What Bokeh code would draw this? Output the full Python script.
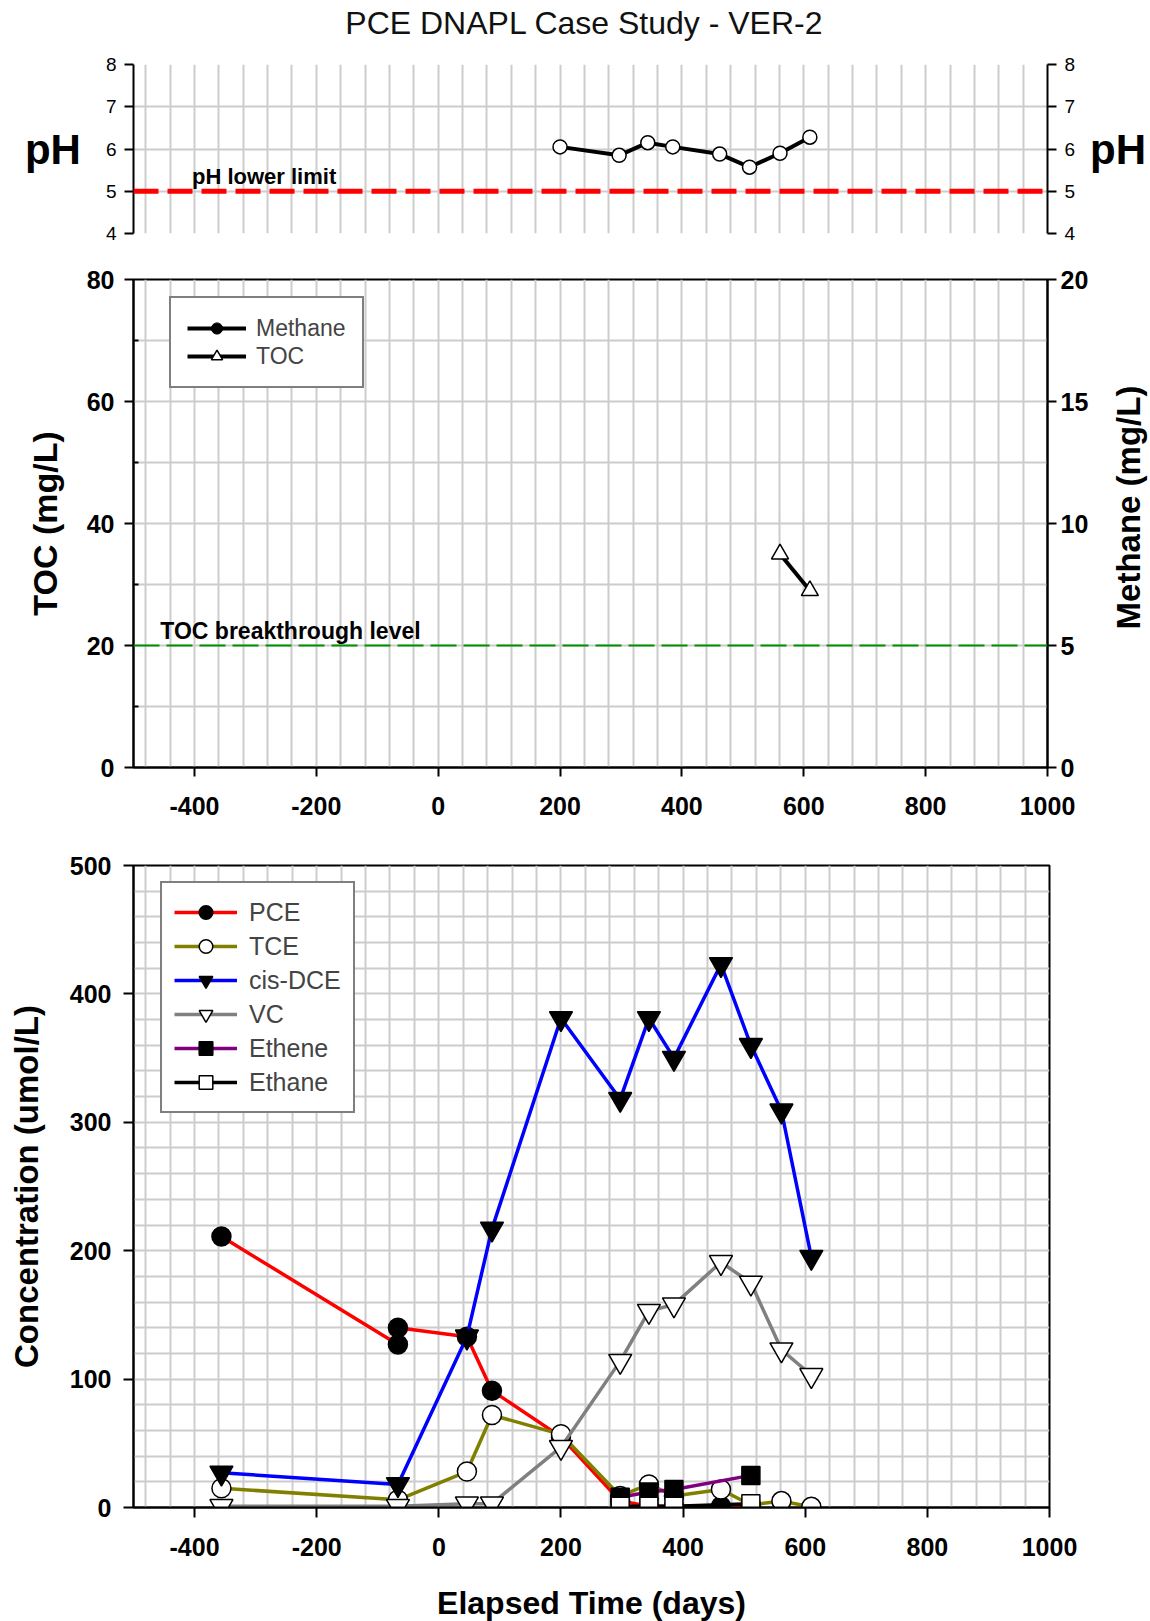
import math
from bokeh.plotting import figure
from bokeh.layouts import column, row
from bokeh.models import (FixedTicker, Range1d, LinearAxis, Legend, LegendItem,
                          Label, Span, ColumnDataSource)
from bokeh.embed import file_html
from bokeh.resources import INLINE

FONT = "Liberation Sans"

# ---------------- data ----------------
title_text = "PCE DNAPL Case Study - VER-2"
x_ticks = [-400, -200, 0, 200, 400, 600, 800, 1000]
x_tick_labels = ["-400", "-200", "0", "200", "400", "600", "800", "1000"]

ph_days = [200, 297, 344, 385, 462, 511, 561, 610]
ph_values = [6.05, 5.85, 6.15, 6.05, 5.88, 5.57, 5.90, 6.28]
ph_lower_limit = 5

toc_days = [561, 610]
toc_values = [35, 29]
methane_days = [561]
methane_values = [float("nan")]   # no methane values plotted
toc_breakthrough = 20

pce_days = [-356, -67, -67, 46, 87, 200, 297, 344, 385, 462, 511]
pce_values = [211, 127, 140, 133, 91, 55, 5, 1, 1, 1, 0.5]
tce_days = [-356, -67, 46, 87, 200, 297, 344, 385, 462, 511, 561, 610]
tce_values = [15, 6, 28, 72, 57, 9, 18, 9, 14, 2, 5, 0.5]
cdce_days = [-356, -67, 46, 87, 200, 297, 344, 385, 462, 511, 561, 610]
cdce_values = [27, 18, 133, 217, 381, 318, 381, 350, 423, 360, 309, 195]
vc_days = [-356, -67, 46, 87, 200, 297, 344, 385, 462, 511, 561, 610]
vc_values = [1, 1, 3, 3, 47, 114, 153, 158, 191, 175, 123, 103]
ethene_days = [297, 344, 385, 511]
ethene_values = [8, 12, 14, 25]
ethane_days = [297, 344, 385, 511]
ethane_values = [1, 1, 1, 3]

# ---------------- styling helpers ----------------
GRID = "#cccccc"
vgrid = list(range(-480, 1001, 40))
x_overrides = {t: s for t, s in zip(x_ticks, x_tick_labels)}


def style_axis(ax, size="25px", bold=True):
    ax.axis_line_color = "black"
    ax.axis_line_width = 2
    ax.major_tick_line_color = "black"
    ax.major_tick_line_width = 2
    ax.major_tick_out = 9
    ax.major_tick_in = 0
    ax.minor_tick_line_color = "black"
    ax.minor_tick_line_width = 2
    ax.minor_tick_out = 0
    ax.minor_tick_in = 0
    ax.major_label_text_font = FONT
    ax.major_label_text_font_size = size
    ax.major_label_text_font_style = "bold" if bold else "normal"
    ax.major_label_text_color = "black"
    ax.axis_label_text_font = FONT
    ax.axis_label_text_font_style = "bold"
    ax.axis_label_text_color = "black"


def new_fig(y0, y1, fh, top, bottom, fw=914, left=133, right=None):
    if right is None:
        right = 1150 - left - fw
    p = figure(x_range=Range1d(-500, 1000), y_range=Range1d(y0, y1),
               frame_width=fw, frame_height=fh,
               min_border_left=left, min_border_right=right,
               min_border_top=top, min_border_bottom=bottom,
               output_backend="svg", toolbar_location=None)
    p.background_fill_color = "white"
    p.border_fill_color = "white"
    p.xgrid.ticker = FixedTicker(ticks=vgrid)
    p.xgrid.grid_line_color = GRID
    p.xgrid.grid_line_width = 2
    p.ygrid.grid_line_color = GRID
    p.ygrid.grid_line_width = 2
    return p


# ---------------- title strip ----------------
p0 = figure(x_range=Range1d(0, 914), y_range=Range1d(0, 54),
            frame_width=914, frame_height=54,
            min_border_left=133, min_border_right=103, min_border_top=0, min_border_bottom=0,
            x_axis_location=None, y_axis_location=None,
            output_backend="svg", toolbar_location=None)
p0.grid.visible = False
p0.outline_line_color = None
p0.background_fill_color = "white"
p0.border_fill_color = "white"
p0.add_layout(Label(x=451, y=32, text=title_text, text_align="center",
                    text_baseline="alphabetic", text_font=FONT, text_font_size="32px",
                    text_font_style="normal", text_color="#111111"))

# ---------------- pH panel ----------------
p1 = new_fig(4, 8, 169, 10, 10)
p1.outline_line_color = None
p1.xaxis.visible = False
p1.ygrid.ticker = FixedTicker(ticks=[4, 5, 6, 7, 8])
ax = p1.yaxis[0]
ax.ticker = FixedTicker(ticks=[4, 5, 6, 7, 8])
style_axis(ax, size="19px", bold=False)
ax.axis_label = "pH"
ax.axis_label_orientation = "horizontal"
ax.axis_label_text_font_size = "42px"
ax.axis_label_standoff = 22
ax.major_label_standoff = 8
axr = LinearAxis(ticker=FixedTicker(ticks=[4, 5, 6, 7, 8]))
style_axis(axr, size="19px", bold=False)
axr.axis_label = "pH"
axr.axis_label_orientation = "horizontal"
axr.axis_label_text_font_size = "42px"
axr.axis_label_standoff = 12
axr.major_label_standoff = 8
p1.add_layout(axr, "right")

p1.add_layout(Span(location=ph_lower_limit, dimension="width", line_color="#ff0000",
                   line_width=5, line_dash="25 9"))
p1.add_layout(Label(x=-404, y=ph_lower_limit, y_offset=15, text="pH lower limit",
                    text_font=FONT, text_font_size="22px", text_font_style="bold",
                    text_color="black", text_baseline="alphabetic"))
ph_src = ColumnDataSource(data=dict(x=ph_days, y=ph_values))
p1.line("x", "y", source=ph_src, line_color="black", line_width=4)
p1.scatter("x", "y", source=ph_src, marker="circle", size=14, fill_color="white",
           line_color="black", line_width=1.5)

# ---------------- TOC / methane panel ----------------
p2 = new_fig(0, 80, 488, 36, 66, right=50)
p2.outline_line_color = "black"
p2.outline_line_width = 2
p2.ygrid.ticker = FixedTicker(ticks=list(range(0, 81, 10)))
p2.extra_y_ranges = {"methane": Range1d(0, 20)}
xa2 = p2.xaxis[0]
xa2.ticker = FixedTicker(ticks=x_ticks)
xa2.major_label_overrides = x_overrides
style_axis(xa2)
xa2.major_label_standoff = 20
ya2 = p2.yaxis[0]
ya2.ticker = FixedTicker(ticks=[0, 20, 40, 60, 80], minor_ticks=[10, 30, 50, 70])
style_axis(ya2)
ya2.minor_tick_in = 5
ya2.major_label_standoff = 10
ya2.axis_label = "TOC (mg/L)"
ya2.axis_label_text_font_size = "34px"
ya2.axis_label_standoff = 20
yr2 = LinearAxis(y_range_name="methane", ticker=FixedTicker(ticks=[0, 5, 10, 15, 20]))
style_axis(yr2)
yr2.major_label_standoff = 4
p2.add_layout(yr2, "right")

p2.add_layout(Span(location=toc_breakthrough, dimension="width", line_color="#009000",
                   line_width=2, line_dash="26 7"))
p2.add_layout(Label(x=-456, y=toc_breakthrough, y_offset=15, text="TOC breakthrough level",
                    text_font=FONT, text_font_size="23px", text_font_style="bold",
                    text_color="black", text_baseline="alphabetic"))

m_src = ColumnDataSource(data=dict(x=methane_days, y=methane_values))
m_line = p2.line("x", "y", source=m_src, y_range_name="methane", line_color="black", line_width=4)
m_sc = p2.scatter("x", "y", source=m_src, y_range_name="methane", marker="circle", size=16,
                  fill_color="black", line_color="black")
t_src = ColumnDataSource(data=dict(x=toc_days, y=toc_values))
t_line = p2.line("x", "y", source=t_src, line_color="black", line_width=4)
t_sc = p2.scatter("x", "y", source=t_src, marker="triangle", size=17, fill_color="white",
                  line_color="black", line_width=1.5)

leg2 = Legend(items=[LegendItem(label="Methane", renderers=[m_line, m_sc]),
                     LegendItem(label="TOC", renderers=[t_line, t_sc])],
              location=(36, 379), margin=0, padding=16, spacing=0,
              glyph_width=59, glyph_height=28, label_standoff=10,
              label_text_font=FONT, label_text_font_size="23px",
              border_line_color="black", border_line_width=2,
              background_fill_color="white", background_fill_alpha=1)
p2.add_layout(leg2)

# narrow companion figure carrying the right-hand axis title (reads bottom-to-top)
pm = figure(x_range=Range1d(0, 1), y_range=Range1d(0, 20),
            frame_width=1, frame_height=456,
            min_border_left=52, min_border_right=0,
            min_border_top=36, min_border_bottom=98,
            output_backend="svg", toolbar_location=None)
pm.background_fill_color = "white"
pm.border_fill_color = "white"
pm.outline_line_color = None
pm.xaxis.visible = False
pm.xgrid.visible = False
pm.ygrid.visible = False
am = pm.yaxis[0]
am.ticker = FixedTicker(ticks=[])
am.axis_line_color = None
am.major_tick_line_color = None
am.minor_tick_line_color = None
am.axis_label = "Methane (mg/L)"
am.axis_label_text_font = FONT
am.axis_label_text_font_size = "33px"
am.axis_label_text_font_style = "bold"
am.axis_label_text_color = "black"
am.axis_label_standoff = 3

# ---------------- concentration panel ----------------
p3 = new_fig(0, 500, 642, 32, 114, fw=916, left=133)
p3.outline_line_color = "black"
p3.outline_line_width = 2
p3.ygrid.ticker = FixedTicker(ticks=list(range(0, 501, 20)))
xa3 = p3.xaxis[0]
xa3.ticker = FixedTicker(ticks=x_ticks)
xa3.major_label_overrides = x_overrides
style_axis(xa3)
xa3.major_tick_out = 10
xa3.major_label_standoff = 20
xa3.axis_label = "Elapsed Time (days)"
xa3.axis_label_text_font_size = "32px"
xa3.axis_label_standoff = 26
ya3 = p3.yaxis[0]
ya3.ticker = FixedTicker(ticks=[0, 100, 200, 300, 400, 500])
style_axis(ya3)
ya3.major_tick_out = 10
ya3.major_label_standoff = 12
ya3.axis_label = "Concentration (umol/L)"
ya3.axis_label_text_font_size = "33px"
ya3.axis_label_standoff = 22

series = [
    ("PCE", pce_days, pce_values, "#ff0000", "circle", "black", 19),
    ("TCE", tce_days, tce_values, "#808000", "circle", "white", 19),
    ("cis-DCE", cdce_days, cdce_values, "#0000ff", "inverted_triangle", "black", 23),
    ("VC", vc_days, vc_values, "#808080", "inverted_triangle", "white", 23),
    ("Ethene", ethene_days, ethene_values, "#800080", "square", "black", 18),
    ("Ethane", ethane_days, ethane_values, "black", "square", "white", 18),
]
items = []
for name, xs, ys, col, mk, fill, sz in series:
    src = ColumnDataSource(data=dict(x=xs, y=ys))
    ln = p3.line("x", "y", source=src, line_color=col, line_width=3.5)
    sc = p3.scatter("x", "y", source=src, marker=mk, size=sz, fill_color=fill,
                    line_color="black", line_width=1.5)
    items.append(LegendItem(label=name, renderers=[ln, sc]))

leg3 = Legend(items=items, location=(27, 394), margin=0, padding=12, spacing=0,
              glyph_width=63, glyph_height=34, label_standoff=12,
              label_text_font=FONT, label_text_font_size="25px",
              border_line_color="black", border_line_width=2,
              background_fill_color="white", background_fill_alpha=1)
p3.add_layout(leg3)

layout = column(p0, p1, row(p2, pm, spacing=0), p3, spacing=0)
open("out.html", "w").write(file_html(layout, INLINE))
